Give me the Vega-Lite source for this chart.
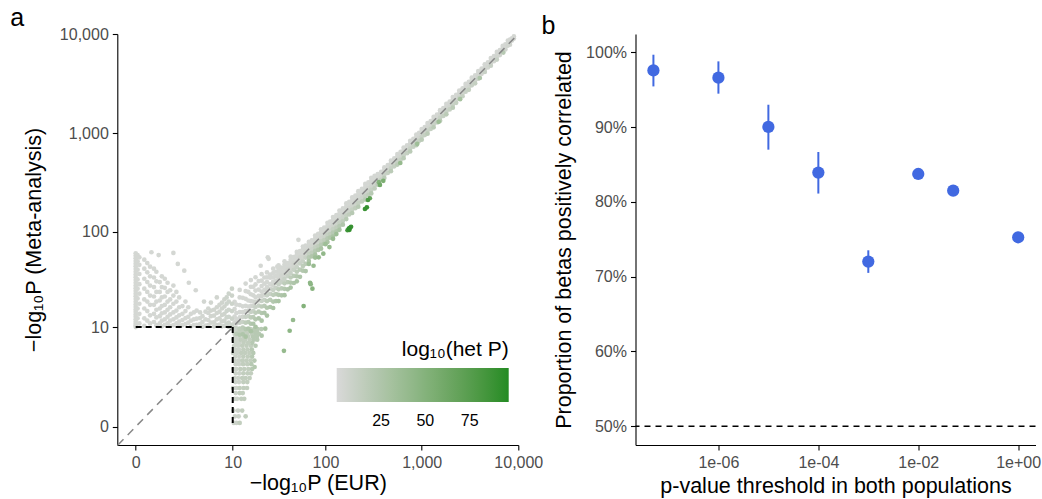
{
"$schema": "https://vega.github.io/schema/vega-lite/v6.json",
"autosize": {"type": "none"},
"padding": {"left": 117.3, "top": 34, "right": 924.7, "bottom": 465},
"background": "white",
"bounds": "flush",
"spacing": 117.2,
"config": {
  "font": "Liberation Sans",
  "view": {"stroke": null},
  "axis": {"grid": false, "domainColor": "black", "domainWidth": 1.1, "tickColor": "black", "tickWidth": 1.1, "tickSize": 5, "labelColor": "#4d4d4d", "labelFontSize": 16, "labelPadding": 4, "titleFontSize": 21.5, "titleFontWeight": "normal", "titleColor": "black", "labelFlush": false, "labelOverlap": false, "labelBound": false}
},
"hconcat": [
{
  "width": 401, "height": 411,
  "title": {"text": "a", "anchor": "start", "frame": "group", "dx": -107, "dy": 27, "offset": 2.5, "baseline": "alphabetic", "fontSize": 25, "fontWeight": "normal", "color": "black"},
  "layer": [
    {
      "data": {"values": [
{"x":0,"y":10,"h":3},{"x":0,"y":10.4,"h":3},{"x":0,"y":10.9,"h":3},{"x":0,"y":11.5,"h":3},{"x":0,"y":12.2,"h":3},{"x":0,"y":13,"h":3},{"x":0,"y":13.8,"h":3},{"x":0,"y":14.7,"h":3},{"x":0,"y":15.6,"h":3},{"x":0,"y":16.6,"h":3},{"x":0,"y":17.7,"h":3},{"x":0,"y":18.9,"h":3},{"x":0,"y":20.2,"h":3},{"x":0,"y":21.6,"h":3},{"x":0,"y":23,"h":3},{"x":0,"y":24.6,"h":3},{"x":0,"y":26.3,"h":3},{"x":0,"y":28,"h":3},{"x":0,"y":30,"h":3},{"x":0,"y":32,"h":3},{"x":0,"y":34.3,"h":3},{"x":0,"y":36.6,"h":3},{"x":0,"y":39,"h":3},{"x":0,"y":41.6,"h":3},{"x":0,"y":44.4,"h":3},{"x":0,"y":47.3,"h":3},{"x":0,"y":50.4,"h":3},{"x":0,"y":53.7,"h":3},{"x":0,"y":57,"h":3},{"x":0,"y":60.5,"h":3},
{"x":0.05,"y":12.5,"h":3},{"x":0.05,"y":16,"h":3},{"x":0.05,"y":20.5,"h":3},{"x":0.05,"y":26,"h":3},{"x":0.05,"y":32.5,"h":3},{"x":0.05,"y":41,"h":3},{"x":0.05,"y":50,"h":3},{"x":0.05,"y":58,"h":3},
{"x":0.1,"y":11,"h":3},{"x":0.1,"y":14,"h":3},{"x":0.1,"y":18,"h":3},{"x":0.1,"y":23,"h":3},{"x":0.1,"y":29,"h":3},{"x":0.1,"y":37,"h":3},{"x":0.1,"y":46,"h":3},{"x":0.1,"y":55,"h":3},
{"x":0.25,"y":10.3,"h":3},{"x":0.25,"y":12.5,"h":3},{"x":0.25,"y":16,"h":3},{"x":0.25,"y":20,"h":3},{"x":0.25,"y":26,"h":3},{"x":0.25,"y":33,"h":3},{"x":0.25,"y":42,"h":3},{"x":0.25,"y":52,"h":3},
{"x":0.35,"y":11.8,"h":3},{"x":0.35,"y":15,"h":3},{"x":0.35,"y":19,"h":3},{"x":0.35,"y":24,"h":3},{"x":0.35,"y":30.5,"h":3},{"x":0.35,"y":38.5,"h":3},{"x":0.35,"y":48,"h":3},
{"x":0.45,"y":11,"h":3},{"x":0.45,"y":13.5,"h":3},{"x":0.45,"y":17.5,"h":3},{"x":0.45,"y":22,"h":3},{"x":0.45,"y":28,"h":3},{"x":0.45,"y":35,"h":3},{"x":0.45,"y":44,"h":3},
{"x":0.6,"y":11.4,"h":3},{"x":0.6,"y":14,"h":3},{"x":0.6,"y":17.5,"h":3},{"x":0.6,"y":21.5,"h":3},{"x":0.6,"y":27,"h":3},{"x":0.6,"y":34,"h":3},{"x":0.6,"y":42,"h":3},
{"x":0.7,"y":10.5,"h":3},{"x":0.7,"y":12.8,"h":3},{"x":0.7,"y":15.5,"h":3},{"x":0.7,"y":19,"h":3},{"x":0.7,"y":24,"h":3},{"x":0.7,"y":31,"h":3},{"x":0.7,"y":39,"h":3},
{"x":0.85,"y":11,"h":3},{"x":0.85,"y":13.2,"h":3},{"x":0.85,"y":16,"h":3},{"x":0.85,"y":19.5,"h":3},{"x":0.85,"y":24,"h":3},{"x":0.85,"y":30.5,"h":3},
{"x":0.95,"y":10.2,"h":3},{"x":0.95,"y":11.8,"h":3},{"x":0.95,"y":14.2,"h":3},{"x":0.95,"y":17,"h":3},{"x":0.95,"y":21,"h":3},{"x":0.95,"y":27,"h":3},{"x":0.95,"y":35,"h":3},
{"x":1.1,"y":10.6,"h":3},{"x":1.1,"y":12.2,"h":3},{"x":1.1,"y":14.5,"h":3},{"x":1.1,"y":17.5,"h":3},{"x":1.1,"y":21.5,"h":3},{"x":1.1,"y":26.5,"h":3},{"x":1.1,"y":33,"h":3},
{"x":1.25,"y":11,"h":3},{"x":1.25,"y":13,"h":3},{"x":1.25,"y":15.5,"h":3},{"x":1.25,"y":19,"h":3},{"x":1.25,"y":24,"h":3},{"x":1.25,"y":30,"h":3},
{"x":1.4,"y":10.3,"h":3},{"x":1.4,"y":11.8,"h":3},{"x":1.4,"y":13.8,"h":3},{"x":1.4,"y":16.5,"h":3},{"x":1.4,"y":20,"h":3},{"x":1.4,"y":25,"h":3},
{"x":1.6,"y":10.5,"h":3},{"x":1.6,"y":12.2,"h":3},{"x":1.6,"y":14.5,"h":3},{"x":1.6,"y":18,"h":3},{"x":1.6,"y":22,"h":3},{"x":1.6,"y":28,"h":3},
{"x":1.8,"y":11,"h":3},{"x":1.8,"y":12.8,"h":3},{"x":1.8,"y":15.2,"h":3},{"x":1.8,"y":19,"h":3},{"x":1.8,"y":24,"h":3},
{"x":2,"y":10.3,"h":3},{"x":2,"y":11.5,"h":3},{"x":2,"y":13.5,"h":3},{"x":2,"y":16.5,"h":3},{"x":2,"y":21,"h":3},
{"x":2.25,"y":10.5,"h":3},{"x":2.25,"y":12,"h":3},{"x":2.25,"y":14,"h":3},{"x":2.25,"y":17,"h":3},
{"x":2.5,"y":10.8,"h":3},{"x":2.5,"y":12.6,"h":3},{"x":2.5,"y":15,"h":3},{"x":2.5,"y":19,"h":3},
{"x":2.75,"y":11.2,"h":3},{"x":2.75,"y":13,"h":3},{"x":2.75,"y":16.5,"h":3},
{"x":3,"y":10.2,"h":3},{"x":3,"y":11.8,"h":3},{"x":3,"y":14,"h":3},
{"x":3.3,"y":10.5,"h":3},{"x":3.3,"y":12.2,"h":3},{"x":3.3,"y":14.5,"h":3},
{"x":3.6,"y":10.6,"h":3},{"x":3.6,"y":12.4,"h":3},{"x":3.6,"y":15.2,"h":3},
{"x":4,"y":10.8,"h":4},{"x":4,"y":12.6,"h":4},{"x":4,"y":14.5,"h":4},
{"x":4.3,"y":10.1,"h":4},{"x":4.3,"y":11.4,"h":4},{"x":4.3,"y":13.2,"h":4},
{"x":4.7,"y":10.4,"h":4},{"x":4.7,"y":12.2,"h":4},{"x":4.7,"y":14.8,"h":4},
{"x":5.1,"y":10.5,"h":4},{"x":5.1,"y":12,"h":4},{"x":5.1,"y":14.3,"h":4},{"x":5.1,"y":16,"h":4},
{"x":5.5,"y":11.2,"h":5},{"x":5.5,"y":13.2,"h":5},{"x":5.5,"y":15.2,"h":5},
{"x":6,"y":10.2,"h":5},{"x":6,"y":11.3,"h":5},{"x":6,"y":13.4,"h":5},{"x":6,"y":15.5,"h":5},
{"x":6.5,"y":10.5,"h":5},{"x":6.5,"y":12.2,"h":5},{"x":6.5,"y":14.3,"h":5},{"x":6.5,"y":16.5,"h":5},
{"x":7,"y":10.7,"h":5},{"x":7,"y":12.5,"h":5},{"x":7,"y":14.8,"h":5},{"x":7,"y":17.5,"h":5},
{"x":7.5,"y":10.2,"h":6},{"x":7.5,"y":11.6,"h":6},{"x":7.5,"y":13.6,"h":6},{"x":7.5,"y":16,"h":6},{"x":7.5,"y":18.5,"h":6},
{"x":8,"y":10.3,"h":6},{"x":8,"y":11.8,"h":6},{"x":8,"y":14,"h":6},{"x":8,"y":16.8,"h":6},{"x":8,"y":20,"h":6},
{"x":8.5,"y":10.9,"h":7},{"x":8.5,"y":12.8,"h":7},{"x":8.5,"y":15,"h":7},{"x":8.5,"y":18,"h":7},{"x":8.5,"y":21,"h":7},
{"x":9,"y":10.1,"h":7},{"x":9,"y":11.2,"h":7},{"x":9,"y":13,"h":7},{"x":9,"y":15.5,"h":7},{"x":9,"y":19,"h":7},{"x":9,"y":23,"h":7},
{"x":9.8,"y":10.6,"h":8},{"x":9.8,"y":12.4,"h":8},{"x":9.8,"y":15,"h":8},{"x":9.8,"y":18,"h":8},{"x":9.8,"y":22,"h":8},{"x":9.8,"y":26,"h":8},
{"x":0.8,"y":58,"h":3},{"x":1.6,"y":61,"h":3},{"x":2.4,"y":40,"h":3},{"x":2.8,"y":30,"h":3},{"x":3.5,"y":25,"h":3},{"x":1.9,"y":47,"h":3},{"x":0.5,"y":62,"h":3},{"x":4.5,"y":19,"h":4},{"x":6.5,"y":21,"h":5},{"x":5.5,"y":18.5,"h":5},
{"x":10.3,"y":0.1,"h":8},{"x":11,"y":0.1,"h":8},{"x":12,"y":0.1,"h":14},
{"x":10.6,"y":0.3,"h":8},{"x":11.7,"y":0.3,"h":8},
{"x":10.2,"y":0.5,"h":8},{"x":11.5,"y":0.5,"h":8},{"x":12.8,"y":0.5,"h":14},
{"x":10.5,"y":1,"h":8},{"x":11.2,"y":1,"h":8},{"x":12.5,"y":1,"h":14},{"x":13.5,"y":1,"h":14},
{"x":10.8,"y":1.3,"h":8},{"x":12,"y":1.3,"h":14},{"x":13,"y":1.3,"h":14},
{"x":10.1,"y":1.6,"h":8},{"x":11,"y":1.6,"h":8},{"x":12,"y":1.6,"h":14},{"x":13.3,"y":1.6,"h":14},{"x":14.5,"y":1.6,"h":14},
{"x":10.7,"y":2,"h":8},{"x":11.8,"y":2,"h":8},{"x":13.2,"y":2,"h":14},{"x":14.6,"y":2,"h":14},
{"x":10.4,"y":2.3,"h":8},{"x":11.5,"y":2.3,"h":8},{"x":12.8,"y":2.3,"h":14},{"x":14,"y":2.3,"h":14},{"x":15.5,"y":2.3,"h":14},
{"x":10.8,"y":2.7,"h":8},{"x":11.9,"y":2.7,"h":8},{"x":13.2,"y":2.7,"h":14},{"x":14.7,"y":2.7,"h":14},{"x":16,"y":2.7,"h":14},
{"x":10.2,"y":3.1,"h":8},{"x":11,"y":3.1,"h":8},{"x":12.2,"y":3.1,"h":14},{"x":13.5,"y":3.1,"h":14},{"x":15,"y":3.1,"h":14},{"x":16.5,"y":3.1,"h":20},
{"x":10.8,"y":3.6,"h":8},{"x":11.8,"y":3.6,"h":8},{"x":13.1,"y":3.6,"h":14},{"x":14.6,"y":3.6,"h":14},{"x":16.2,"y":3.6,"h":20},
{"x":10.5,"y":4,"h":8},{"x":11.6,"y":4,"h":8},{"x":12.8,"y":4,"h":14},{"x":14.2,"y":4,"h":14},{"x":15.8,"y":4,"h":14},{"x":17.5,"y":4,"h":20},
{"x":10.7,"y":4.5,"h":8},{"x":11.9,"y":4.5,"h":8},{"x":13.2,"y":4.5,"h":14},{"x":14.8,"y":4.5,"h":14},{"x":16.5,"y":4.5,"h":20},
{"x":10.1,"y":5,"h":8},{"x":11.2,"y":5,"h":8},{"x":12.5,"y":5,"h":14},{"x":13.8,"y":5,"h":14},{"x":15.4,"y":5,"h":14},{"x":17,"y":5,"h":20},
{"x":10.7,"y":5.5,"h":8},{"x":11.8,"y":5.5,"h":8},{"x":13.2,"y":5.5,"h":14},{"x":14.7,"y":5.5,"h":14},{"x":16.4,"y":5.5,"h":20},
{"x":10.4,"y":6.1,"h":8},{"x":11.5,"y":6.1,"h":8},{"x":12.8,"y":6.1,"h":14},{"x":14.3,"y":6.1,"h":14},{"x":16,"y":6.1,"h":14},{"x":18,"y":6.1,"h":20},
{"x":10.8,"y":6.6,"h":8},{"x":11.9,"y":6.6,"h":8},{"x":13.3,"y":6.6,"h":14},{"x":14.9,"y":6.6,"h":14},{"x":16.6,"y":6.6,"h":20},
{"x":10.2,"y":7.2,"h":8},{"x":11.2,"y":7.2,"h":8},{"x":12.4,"y":7.2,"h":14},{"x":13.8,"y":7.2,"h":14},{"x":15.5,"y":7.2,"h":14},{"x":17.2,"y":7.2,"h":20},{"x":18.8,"y":7.2,"h":20},
{"x":10.7,"y":7.8,"h":8},{"x":11.9,"y":7.8,"h":8},{"x":13.4,"y":7.8,"h":14},{"x":15,"y":7.8,"h":14},{"x":16.9,"y":7.8,"h":20},{"x":18.6,"y":7.8,"h":20},
{"x":10.5,"y":8.4,"h":8},{"x":11.6,"y":8.4,"h":8},{"x":13,"y":8.4,"h":14},{"x":14.5,"y":8.4,"h":14},{"x":16.3,"y":8.4,"h":14},{"x":18,"y":8.4,"h":20},{"x":19.6,"y":8.4,"h":20},
{"x":10.8,"y":9,"h":8},{"x":12,"y":9,"h":14},{"x":13.4,"y":9,"h":14},{"x":14.9,"y":9,"h":14},{"x":16.8,"y":9,"h":20},{"x":18.6,"y":9,"h":20},
{"x":10.1,"y":9.5,"h":8},{"x":11.3,"y":9.5,"h":8},{"x":12.6,"y":9.5,"h":14},{"x":14,"y":9.5,"h":14},{"x":15.8,"y":9.5,"h":14},{"x":17.5,"y":9.5,"h":20},{"x":19,"y":9.5,"h":20},{"x":20.8,"y":9.5,"h":20},
{"x":17.6,"y":3.3,"h":22},{"x":21,"y":8,"h":25},{"x":23,"y":9.6,"h":30},{"x":14,"y":0.3,"h":15},
{"x":10.5,"y":18.9,"h":3},{"x":10.5,"y":15.8,"h":3},{"x":10.5,"y":13.1,"h":3},{"x":10.5,"y":11.3,"h":3},{"x":10.5,"y":9.8,"h":10},
{"x":11,"y":17.6,"h":3},{"x":11,"y":14.3,"h":3},{"x":11,"y":12.3,"h":3},{"x":11,"y":11,"h":5},{"x":11,"y":9.7,"h":10},{"x":11,"y":8.4,"h":18},
{"x":12,"y":25.2,"h":3},{"x":12,"y":21,"h":3},{"x":12,"y":17.4,"h":3},{"x":12,"y":14.6,"h":3},{"x":12,"y":12.8,"h":3},{"x":12,"y":11.2,"h":10},{"x":12,"y":9.6,"h":16},{"x":12,"y":8.2,"h":22},
{"x":13,"y":20.8,"h":3},{"x":13,"y":16.9,"h":3},{"x":13,"y":14.6,"h":3},{"x":13,"y":13,"h":5},{"x":13,"y":11.4,"h":10},{"x":13,"y":9.9,"h":18},{"x":13,"y":8.3,"h":25},
{"x":14,"y":29.4,"h":3},{"x":14,"y":24.5,"h":3},{"x":14,"y":20.3,"h":3},{"x":14,"y":17.1,"h":3},{"x":14,"y":15,"h":3},{"x":14,"y":13,"h":10},{"x":14,"y":11.2,"h":16},{"x":14,"y":9.5,"h":22},{"x":14,"y":7.8,"h":28},
{"x":15,"y":24,"h":3},{"x":15,"y":19.5,"h":3},{"x":15,"y":16.8,"h":3},{"x":15,"y":15,"h":5},{"x":15,"y":13.2,"h":10},{"x":15,"y":11.4,"h":18},{"x":15,"y":9.6,"h":25},
{"x":16,"y":32,"h":3},{"x":16,"y":27.2,"h":3},{"x":16,"y":22.7,"h":3},{"x":16,"y":19.2,"h":3},{"x":16,"y":17,"h":3},{"x":16,"y":14.7,"h":10},{"x":16,"y":12.8,"h":16},{"x":16,"y":10.9,"h":22},{"x":16,"y":9,"h":28},
{"x":17,"y":27.2,"h":3},{"x":17,"y":22.1,"h":3},{"x":17,"y":19,"h":3},{"x":17,"y":17,"h":5},{"x":17,"y":15,"h":10},{"x":17,"y":12.9,"h":18},{"x":17,"y":10.9,"h":25},
{"x":18,"y":34.2,"h":3},{"x":18,"y":28.8,"h":3},{"x":18,"y":24.8,"h":3},{"x":18,"y":21.2,"h":3},{"x":18,"y":18.9,"h":5},{"x":18,"y":16.6,"h":10},{"x":18,"y":14.4,"h":16},{"x":18,"y":12.2,"h":22},{"x":18,"y":10.1,"h":28},
{"x":19.5,"y":31.2,"h":3},{"x":19.5,"y":25.4,"h":3},{"x":19.5,"y":21.8,"h":3},{"x":19.5,"y":19.5,"h":5},{"x":19.5,"y":17.2,"h":10},{"x":19.5,"y":14.8,"h":18},{"x":19.5,"y":12.5,"h":25},
{"x":21,"y":36.8,"h":3},{"x":21,"y":31.5,"h":3},{"x":21,"y":27.7,"h":3},{"x":21,"y":24.2,"h":3},{"x":21,"y":21.8,"h":5},{"x":21,"y":19.3,"h":10},{"x":21,"y":16.8,"h":16},{"x":21,"y":14.3,"h":22},{"x":21,"y":11.8,"h":28},
{"x":22.5,"y":34,"h":3},{"x":22.5,"y":29.3,"h":3},{"x":22.5,"y":25.2,"h":3},{"x":22.5,"y":22.5,"h":5},{"x":22.5,"y":19.8,"h":10},{"x":22.5,"y":17.1,"h":18},{"x":22.5,"y":14.4,"h":25},
{"x":24,"y":38.4,"h":3},{"x":24,"y":34.1,"h":3},{"x":24,"y":30.5,"h":3},{"x":24,"y":27.1,"h":3},{"x":24,"y":24.7,"h":5},{"x":24,"y":22.1,"h":10},{"x":24,"y":19.2,"h":16},{"x":24,"y":16.3,"h":22},{"x":24,"y":13.4,"h":28},
{"x":26,"y":36.4,"h":3},{"x":26,"y":33.8,"h":3},{"x":26,"y":29.1,"h":3},{"x":26,"y":26,"h":5},{"x":26,"y":22.9,"h":10},{"x":26,"y":19.8,"h":18},{"x":26,"y":16.6,"h":25},
{"x":28,"y":42,"h":3},{"x":28,"y":37.8,"h":3},{"x":28,"y":34.2,"h":3},{"x":28,"y":30.8,"h":3},{"x":28,"y":28,"h":5},{"x":28,"y":25.2,"h":10},{"x":28,"y":22.4,"h":16},{"x":28,"y":19,"h":22},{"x":28,"y":16.2,"h":28},
{"x":30,"y":39,"h":3},{"x":30,"y":35.1,"h":3},{"x":30,"y":31.5,"h":3},{"x":30,"y":30,"h":5},{"x":30,"y":26.4,"h":10},{"x":30,"y":22.8,"h":18},{"x":30,"y":19.2,"h":25},
{"x":32,"y":45.4,"h":3},{"x":32,"y":41.6,"h":3},{"x":32,"y":37.8,"h":3},{"x":32,"y":34.6,"h":3},{"x":32,"y":32,"h":5},{"x":32,"y":28.8,"h":10},{"x":32,"y":25.6,"h":16},{"x":32,"y":22.4,"h":22},{"x":32,"y":19.2,"h":28},
{"x":34.5,"y":43.1,"h":3},{"x":34.5,"y":39.3,"h":3},{"x":34.5,"y":35.9,"h":5},{"x":34.5,"y":33.5,"h":5},{"x":34.5,"y":30.4,"h":10},{"x":34.5,"y":26.2,"h":18},{"x":34.5,"y":22.1,"h":25},
{"x":37,"y":50,"h":3},{"x":37,"y":46.3,"h":3},{"x":37,"y":42.6,"h":3},{"x":37,"y":39.2,"h":3},{"x":37,"y":36.3,"h":5},{"x":37,"y":32.9,"h":10},{"x":37,"y":29.6,"h":16},{"x":37,"y":25.9,"h":22},{"x":37,"y":22.2,"h":28},
{"x":40,"y":48,"h":3},{"x":40,"y":44.4,"h":3},{"x":40,"y":40.8,"h":5},{"x":40,"y":38.4,"h":5},{"x":40,"y":35.2,"h":10},{"x":40,"y":30.4,"h":18},{"x":40,"y":25.6,"h":25},
{"x":43,"y":55.9,"h":3},{"x":43,"y":51.6,"h":3},{"x":43,"y":48.2,"h":3},{"x":43,"y":45.2,"h":3},{"x":43,"y":41.7,"h":5},{"x":43,"y":37.8,"h":10},{"x":43,"y":34,"h":16},{"x":43,"y":30.1,"h":22},{"x":43,"y":26.7,"h":28},
{"x":46.5,"y":55.3,"h":3},{"x":46.5,"y":51.2,"h":3},{"x":46.5,"y":47.4,"h":5},{"x":46.5,"y":44.6,"h":5},{"x":46.5,"y":40.9,"h":10},{"x":46.5,"y":35.3,"h":18},{"x":46.5,"y":29.8,"h":25},
{"x":50,"y":62.5,"h":3},{"x":50,"y":58.5,"h":3},{"x":50,"y":55,"h":3},{"x":50,"y":51.5,"h":3},{"x":50,"y":48,"h":5},{"x":50,"y":43.5,"h":10},{"x":50,"y":39,"h":16},{"x":50,"y":35,"h":22},{"x":50,"y":31,"h":28},
{"x":54,"y":63.7,"h":3},{"x":54,"y":59.4,"h":3},{"x":54,"y":55.1,"h":5},{"x":54,"y":51.8,"h":5},{"x":54,"y":47.5,"h":10},{"x":54,"y":41,"h":18},{"x":54,"y":34.6,"h":25},
{"x":58,"y":70.8,"h":3},{"x":58,"y":66.7,"h":3},{"x":58,"y":62.6,"h":3},{"x":58,"y":59.2,"h":3},{"x":58,"y":55.1,"h":5},{"x":58,"y":49.9,"h":10},{"x":58,"y":44.7,"h":16},{"x":58,"y":40,"h":22},
{"x":62,"y":72.5,"h":3},{"x":62,"y":67.6,"h":3},{"x":62,"y":63.2,"h":5},{"x":62,"y":59.5,"h":5},{"x":62,"y":54.6,"h":10},{"x":62,"y":47.1,"h":18},{"x":62,"y":39.7,"h":25},
{"x":52,"y":83,"h":3},{"x":24.5,"y":55,"h":3},{"x":31,"y":44,"h":3},{"x":20.5,"y":45,"h":3},{"x":25,"y":53,"h":3},
{"x":67,"y":79,"h":3},{"x":67,"y":73.7,"h":3},{"x":67,"y":69,"h":4},{"x":67,"y":64.3,"h":6},{"x":67,"y":59.6,"h":12},{"x":67,"y":54.9,"h":20},{"x":67,"y":50.3,"h":28},{"x":67,"y":46.9,"h":35},
{"x":72,"y":82.1,"h":3},{"x":72,"y":76.3,"h":3},{"x":72,"y":71.3,"h":5},{"x":72,"y":66.2,"h":8},{"x":72,"y":61.2,"h":15},{"x":72,"y":56.2,"h":24},
{"x":78,"y":92,"h":3},{"x":78,"y":85.8,"h":3},{"x":78,"y":80.3,"h":4},{"x":78,"y":74.9,"h":6},{"x":78,"y":69.4,"h":12},{"x":78,"y":64,"h":20},{"x":78,"y":58.5,"h":28},{"x":78,"y":54.6,"h":35},
{"x":84,"y":95.8,"h":3},{"x":84,"y":89,"h":3},{"x":84,"y":83.2,"h":5},{"x":84,"y":77.3,"h":8},{"x":84,"y":71.4,"h":15},{"x":84,"y":65.5,"h":24},
{"x":90,"y":106.2,"h":3},{"x":90,"y":99,"h":3},{"x":90,"y":92.7,"h":4},{"x":90,"y":86.4,"h":6},{"x":90,"y":80.1,"h":12},{"x":90,"y":73.8,"h":20},{"x":90,"y":67.5,"h":28},
{"x":97,"y":110.6,"h":3},{"x":97,"y":102.8,"h":3},{"x":97,"y":96,"h":5},{"x":97,"y":89.2,"h":8},{"x":97,"y":82.5,"h":15},{"x":97,"y":75.7,"h":24},
{"x":105,"y":123.9,"h":3},{"x":105,"y":115.5,"h":3},{"x":105,"y":108.2,"h":4},{"x":105,"y":100.8,"h":6},{"x":105,"y":93.5,"h":12},{"x":105,"y":86.1,"h":20},{"x":105,"y":78.8,"h":28},
{"x":112,"y":127.7,"h":3},{"x":112,"y":118.7,"h":3},{"x":112,"y":110.9,"h":5},{"x":112,"y":103,"h":8},{"x":112,"y":95.2,"h":15},{"x":112,"y":87.4,"h":24},
{"x":120,"y":141.6,"h":3},{"x":120,"y":132,"h":3},{"x":120,"y":123.6,"h":4},{"x":120,"y":115.2,"h":6},{"x":120,"y":106.8,"h":12},{"x":120,"y":98.4,"h":20},{"x":120,"y":90,"h":28},
{"x":130,"y":148.2,"h":3},{"x":130,"y":137.8,"h":3},{"x":130,"y":128.7,"h":5},{"x":130,"y":119.6,"h":8},{"x":130,"y":110.5,"h":15},{"x":130,"y":101.4,"h":24},
{"x":140,"y":165.2,"h":3},{"x":140,"y":154,"h":3},{"x":140,"y":144.2,"h":4},{"x":140,"y":134.4,"h":6},{"x":140,"y":124.6,"h":12},{"x":140,"y":114.8,"h":20},{"x":140,"y":105,"h":28},
{"x":152,"y":173.3,"h":3},{"x":152,"y":161.1,"h":3},{"x":152,"y":150.5,"h":5},{"x":152,"y":139.8,"h":8},{"x":152,"y":129.2,"h":15},{"x":152,"y":118.6,"h":24},
{"x":165,"y":194.7,"h":3},{"x":165,"y":181.5,"h":3},{"x":165,"y":170,"h":4},{"x":165,"y":158.4,"h":6},{"x":165,"y":146.9,"h":12},{"x":165,"y":135.3,"h":20},
{"x":177,"y":201.8,"h":3},{"x":177,"y":187.6,"h":3},{"x":177,"y":175.2,"h":5},{"x":177,"y":162.8,"h":8},{"x":177,"y":150.5,"h":15},
{"x":190,"y":224.2,"h":3},{"x":190,"y":209,"h":3},{"x":190,"y":195.7,"h":4},{"x":190,"y":182.4,"h":6},{"x":190,"y":169.1,"h":12},{"x":190,"y":155.8,"h":20},
{"x":205,"y":233.7,"h":3},{"x":205,"y":217.3,"h":3},{"x":205,"y":203,"h":5},{"x":205,"y":188.6,"h":8},{"x":205,"y":174.3,"h":15},
{"x":220,"y":259.6,"h":3},{"x":220,"y":242,"h":3},{"x":220,"y":226.6,"h":4},{"x":220,"y":211.2,"h":6},{"x":220,"y":195.8,"h":12},{"x":220,"y":180.4,"h":20},
{"x":240,"y":273.6,"h":3},{"x":240,"y":254.4,"h":3},{"x":240,"y":237.6,"h":5},{"x":240,"y":220.8,"h":8},{"x":240,"y":204,"h":15},
{"x":260,"y":306.8,"h":3},{"x":260,"y":286,"h":3},{"x":260,"y":267.8,"h":4},{"x":260,"y":249.6,"h":6},{"x":260,"y":231.4,"h":12},{"x":260,"y":213.2,"h":20},
{"x":280,"y":319.2,"h":3},{"x":280,"y":296.8,"h":3},{"x":280,"y":277.2,"h":5},{"x":280,"y":257.6,"h":8},{"x":280,"y":238,"h":15},
{"x":300,"y":354,"h":3},{"x":300,"y":330,"h":3},{"x":300,"y":309,"h":4},{"x":300,"y":288,"h":6},{"x":300,"y":267,"h":12},{"x":300,"y":246,"h":20},
{"x":325,"y":370.5,"h":3},{"x":325,"y":344.5,"h":3},{"x":325,"y":321.8,"h":5},{"x":325,"y":299,"h":8},{"x":325,"y":276.3,"h":15},
{"x":350,"y":385,"h":3},{"x":350,"y":364,"h":3},{"x":350,"y":343,"h":5},{"x":350,"y":322,"h":10},{"x":350,"y":301,"h":18},
{"x":380,"y":406.6,"h":3},{"x":380,"y":380,"h":3},{"x":380,"y":361,"h":5},{"x":380,"y":338.2,"h":12},
{"x":410,"y":451,"h":3},{"x":410,"y":426.4,"h":3},{"x":410,"y":401.8,"h":5},{"x":410,"y":377.2,"h":10},{"x":410,"y":352.6,"h":18},
{"x":445,"y":476.2,"h":3},{"x":445,"y":445,"h":3},{"x":445,"y":422.8,"h":5},{"x":445,"y":396.1,"h":12},
{"x":480,"y":528,"h":3},{"x":480,"y":499.2,"h":3},{"x":480,"y":470.4,"h":5},{"x":480,"y":441.6,"h":10},{"x":480,"y":412.8,"h":18},
{"x":520,"y":556.4,"h":3},{"x":520,"y":520,"h":3},{"x":520,"y":494,"h":5},{"x":520,"y":462.8,"h":12},
{"x":560,"y":616,"h":3},{"x":560,"y":582.4,"h":3},{"x":560,"y":548.8,"h":5},{"x":560,"y":515.2,"h":10},{"x":560,"y":481.6,"h":18},
{"x":605,"y":647.4,"h":3},{"x":605,"y":605,"h":3},{"x":605,"y":574.8,"h":5},{"x":605,"y":538.5,"h":12},
{"x":650,"y":715,"h":3},{"x":650,"y":676,"h":3},{"x":650,"y":637,"h":5},{"x":650,"y":598,"h":10},{"x":650,"y":559,"h":18},
{"x":705,"y":754.4,"h":3},{"x":705,"y":705,"h":3},{"x":705,"y":669.8,"h":5},{"x":705,"y":627.5,"h":12},
{"x":760,"y":836,"h":3},{"x":760,"y":790.4,"h":3},{"x":760,"y":744.8,"h":5},{"x":760,"y":699.2,"h":10},{"x":760,"y":653.6,"h":18},
{"x":820,"y":877.4,"h":3},{"x":820,"y":820,"h":3},{"x":820,"y":779,"h":5},{"x":820,"y":729.8,"h":12},
{"x":880,"y":968,"h":3},{"x":880,"y":915.2,"h":3},{"x":880,"y":862.4,"h":5},{"x":880,"y":809.6,"h":10},{"x":880,"y":756.8,"h":18},
{"x":940,"y":1005.8,"h":3},{"x":940,"y":940,"h":3},{"x":940,"y":893,"h":5},{"x":940,"y":836.6,"h":12},
{"x":1000,"y":1100,"h":3},{"x":1000,"y":1040,"h":3},{"x":1000,"y":980,"h":5},{"x":1000,"y":920,"h":10},{"x":1000,"y":860,"h":18},
{"x":1075,"y":1150.3,"h":3},{"x":1075,"y":1075,"h":3},{"x":1075,"y":1021.3,"h":5},{"x":1075,"y":956.8,"h":12},
{"x":1150,"y":1265,"h":3},{"x":1150,"y":1196,"h":3},{"x":1150,"y":1127,"h":5},{"x":1150,"y":1058,"h":10},{"x":1150,"y":989,"h":18},
{"x":1240,"y":1326.8,"h":3},{"x":1240,"y":1240,"h":3},{"x":1240,"y":1178,"h":5},{"x":1240,"y":1103.6,"h":12},
{"x":1330,"y":1463,"h":3},{"x":1330,"y":1383,"h":3},{"x":1330,"y":1303,"h":5},{"x":1330,"y":1224,"h":10},{"x":1330,"y":1144,"h":18},
{"x":1440,"y":1540.8,"h":3},{"x":1440,"y":1440,"h":3},{"x":1440,"y":1368,"h":5},{"x":1440,"y":1281.6,"h":12},
{"x":1550,"y":1705,"h":3},{"x":1550,"y":1612,"h":3},{"x":1550,"y":1519,"h":5},{"x":1550,"y":1426,"h":10},{"x":1550,"y":1333,"h":18},
{"x":1675,"y":1792.3,"h":3},{"x":1675,"y":1675,"h":3},{"x":1675,"y":1591.3,"h":5},{"x":1675,"y":1490.8,"h":12},
{"x":1800,"y":1980,"h":3},{"x":1800,"y":1872,"h":3},{"x":1800,"y":1764,"h":5},{"x":1800,"y":1656,"h":10},{"x":1800,"y":1548,"h":18},
{"x":1950,"y":2086.5,"h":3},{"x":1950,"y":1950,"h":3},{"x":1950,"y":1852.5,"h":5},{"x":1950,"y":1735.5,"h":12},
{"x":2100,"y":2310,"h":3},{"x":2100,"y":2184,"h":3},{"x":2100,"y":2058,"h":5},{"x":2100,"y":1932,"h":10},{"x":2100,"y":1806,"h":18},
{"x":2275,"y":2434.3,"h":3},{"x":2275,"y":2275,"h":3},{"x":2275,"y":2161.3,"h":5},{"x":2275,"y":2024.8,"h":12},
{"x":2450,"y":2695,"h":3},{"x":2450,"y":2548,"h":3},{"x":2450,"y":2401,"h":5},{"x":2450,"y":2254,"h":10},
{"x":2650,"y":2835.5,"h":3},{"x":2650,"y":2650,"h":3},{"x":2650,"y":2517.5,"h":5},{"x":2650,"y":2358.5,"h":12},
{"x":2850,"y":3135,"h":3},{"x":2850,"y":2964,"h":3},{"x":2850,"y":2793,"h":5},{"x":2850,"y":2622,"h":10},
{"x":3075,"y":3290.3,"h":3},{"x":3075,"y":3075,"h":3},{"x":3075,"y":2921.3,"h":5},{"x":3075,"y":2736.8,"h":12},
{"x":3300,"y":3630,"h":3},{"x":3300,"y":3432,"h":3},{"x":3300,"y":3234,"h":5},{"x":3300,"y":3036,"h":10},
{"x":3575,"y":3825.3,"h":3},{"x":3575,"y":3575,"h":3},{"x":3575,"y":3396.3,"h":5},{"x":3575,"y":3181.8,"h":12},
{"x":3850,"y":4235,"h":3},{"x":3850,"y":4004,"h":3},{"x":3850,"y":3773,"h":5},{"x":3850,"y":3542,"h":10},
{"x":4175,"y":4467.3,"h":3},{"x":4175,"y":4175,"h":3},{"x":4175,"y":3966.3,"h":5},
{"x":4500,"y":4950,"h":3},{"x":4500,"y":4680,"h":3},{"x":4500,"y":4410,"h":5},{"x":4500,"y":4140,"h":10},
{"x":4850,"y":5189.5,"h":3},{"x":4850,"y":4850,"h":3},{"x":4850,"y":4607.5,"h":5},
{"x":5200,"y":5720,"h":3},{"x":5200,"y":5408,"h":3},{"x":5200,"y":5096,"h":5},{"x":5200,"y":4784,"h":10},
{"x":5600,"y":5992,"h":3},{"x":5600,"y":5600,"h":3},{"x":5600,"y":5320,"h":5},
{"x":6000,"y":6600,"h":3},{"x":6000,"y":6240,"h":3},{"x":6000,"y":5880,"h":5},{"x":6000,"y":5520,"h":10},
{"x":6450,"y":6901.5,"h":3},{"x":6450,"y":6450,"h":3},{"x":6450,"y":6127.5,"h":5},
{"x":6900,"y":7590,"h":3},{"x":6900,"y":7176,"h":3},{"x":6900,"y":6762,"h":5},
{"x":7350,"y":7864.5,"h":3},{"x":7350,"y":7350,"h":3},{"x":7350,"y":6982.5,"h":5},
{"x":7800,"y":8580,"h":3},{"x":7800,"y":8112,"h":3},{"x":7800,"y":7644,"h":5},
{"x":8200,"y":8774,"h":3},{"x":8200,"y":8200,"h":3},{"x":8200,"y":7790,"h":5},
{"x":8600,"y":9030,"h":3},{"x":8600,"y":8600,"h":3},
{"x":9000,"y":9450,"h":3},{"x":9000,"y":9000,"h":3},
{"x":69,"y":30,"h":45},{"x":59,"y":17,"h":50},{"x":45.6,"y":12,"h":40},{"x":42,"y":9.1,"h":45},{"x":36.5,"y":5.3,"h":40},{"x":70,"y":29,"h":45},{"x":73,"y":26,"h":48},
{"x":75,"y":45,"h":38},{"x":85,"y":55,"h":40},{"x":95,"y":60,"h":42},{"x":110,"y":70,"h":40},{"x":100,"y":75,"h":35},{"x":120,"y":85,"h":38},{"x":130,"y":95,"h":36},
{"x":170,"y":104,"h":85},{"x":175,"y":108,"h":92},{"x":180,"y":110,"h":90},{"x":185,"y":113,"h":88},{"x":178,"y":105,"h":90},
{"x":258,"y":171,"h":88},{"x":270,"y":178,"h":90},{"x":277,"y":211,"h":80},{"x":290,"y":220,"h":70},
{"x":369,"y":300,"h":60},{"x":400,"y":330,"h":55},{"x":360,"y":320,"h":50},
{"x":600,"y":500,"h":40},{"x":900,"y":780,"h":35},{"x":1500,"y":1300,"h":35},{"x":2500,"y":2200,"h":30},{"x":4000,"y":3600,"h":25},{"x":7000,"y":6500,"h":20}
      ]},
      "mark": {"type": "circle", "size": 22, "opacity": 1},
      "encoding": {
        "x": {"field": "x", "type": "quantitative", "scale": {"type": "symlog", "constant": 1.1, "domain": [-0.605, 10000], "nice": false, "zero": false},
              "axis": {"values": [0, 10, 100, 1000, 10000], "format": ",d", "title": "−log₁₀P (EUR)", "titlePadding": 2}},
        "y": {"field": "y", "type": "quantitative", "scale": {"type": "symlog", "constant": 1.1, "domain": [-0.582, 10000], "nice": false, "zero": false},
              "axis": {"values": [0, 10, 100, 1000, 10000], "format": ",d", "title": "−log₁₀P (Meta-analysis)", "titlePadding": 14}},
        "color": {"field": "h", "type": "quantitative",
                  "scale": {"domain": [0, 97], "range": ["#d9d9d9", "#228b22"], "interpolate": "lab"},
                  "legend": {"title": "log₁₀(het P)", "orient": "none", "legendX": 219.4, "legendY": 305, "direction": "horizontal", "gradientLength": 172, "gradientThickness": 34, "titleAnchor": "end", "titleFontSize": 21, "titleFontWeight": "normal", "titleColor": "black", "titlePadding": 8, "labelFontSize": 16, "labelColor": "black", "labelOffset": 11, "values": [25, 50, 75], "gradientStrokeWidth": 0, "padding": 0}},
        "order": {"field": "h", "type": "quantitative"}
      }
    },
    {
      "data": {"values": [{"x": -0.58, "y": -0.58}, {"x": 10000, "y": 10000}]},
      "mark": {"type": "line", "color": "#888888", "strokeDash": [8, 6], "strokeWidth": 1.5},
      "encoding": {"x": {"field": "x", "type": "quantitative"}, "y": {"field": "y", "type": "quantitative"}}
    },
    {
      "data": {"values": [{"x": 0, "y": 10, "x2": 10, "y2": 10}, {"x": 10, "y": 10, "x2": 10, "y2": 0}]},
      "mark": {"type": "rule", "color": "black", "strokeDash": [6, 4], "strokeWidth": 2},
      "encoding": {"x": {"field": "x", "type": "quantitative"}, "y": {"field": "y", "type": "quantitative"}, "x2": {"field": "x2"}, "y2": {"field": "y2"}}
    }
  ]
},
{
  "width": 400, "height": 411,
  "title": {"text": "b", "anchor": "start", "frame": "group", "dx": -94, "dy": 27, "offset": 2.5, "baseline": "alphabetic", "fontSize": 25, "fontWeight": "normal", "color": "black"},
  "layer": [
    {
      "data": {"values": [{"v": 0.5}]},
      "mark": {"type": "rule", "color": "black", "strokeDash": [6, 5], "strokeWidth": 1.5},
      "encoding": {"y": {"field": "v", "type": "quantitative"}}
    },
    {
      "data": {"values": [
        {"p": 5e-8, "prop": 0.9759, "lo": 0.9545, "hi": 0.9969},
        {"p": 1e-6, "prop": 0.9662, "lo": 0.9448, "hi": 0.988},
        {"p": 1e-5, "prop": 0.9003, "lo": 0.8699, "hi": 0.930},
        {"p": 1e-4, "prop": 0.8392, "lo": 0.8112, "hi": 0.8668},
        {"p": 1e-3, "prop": 0.7202, "lo": 0.7051, "hi": 0.7353},
        {"p": 1e-2, "prop": 0.8374},
        {"p": 0.05, "prop": 0.8151},
        {"p": 1, "prop": 0.7527}
      ]},
      "layer": [
        {
          "mark": {"type": "rule", "color": "#4169E1", "strokeWidth": 2},
          "encoding": {"x": {"field": "p", "type": "quantitative"}, "y": {"field": "lo", "type": "quantitative"}, "y2": {"field": "hi"}}
        },
        {
          "mark": {"type": "circle", "size": 150, "color": "#4169E1", "opacity": 1},
          "encoding": {
            "x": {"field": "p", "type": "quantitative", "scale": {"type": "log", "domain": [2.19e-8, 2.22], "nice": false},
                  "axis": {"values": [1e-6, 1e-4, 1e-2, 1], "labelExpr": "datum.value >= 1 ? '1e+00' : '1e-0' + round(-log(datum.value)/LN10)", "title": "p-value threshold in both populations", "titlePadding": 5.5}},
            "y": {"field": "prop", "type": "quantitative", "scale": {"domain": [0.4749, 1.0246], "nice": false, "zero": false},
                  "axis": {"values": [0.5, 0.6, 0.7, 0.8, 0.9, 1.0], "format": ".0%", "title": "Proportion of betas positively correlated", "titlePadding": 10}}
          }
        }
      ]
    }
  ]
}
]
}
